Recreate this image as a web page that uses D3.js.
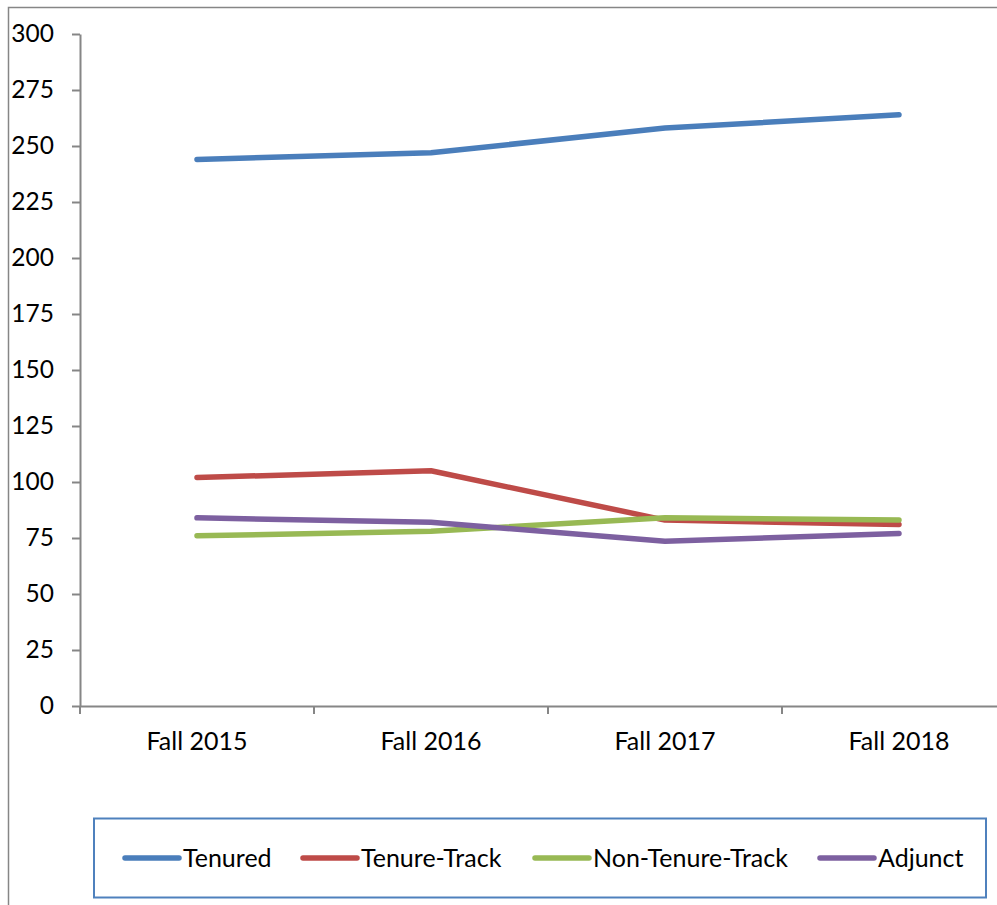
<!DOCTYPE html>
<html>
<head>
<meta charset="utf-8">
<script src="https://cdn.jsdelivr.net/npm/d3@7"></script>
<style>
  html, body { margin: 0; padding: 0; background: #fff; }
  svg text { font-family: Lato, "Liberation Sans", sans-serif; font-size: 25px; fill: #000; }
</style>
</head>
<body>
<div id="chart"></div>
<script>
// Data
var categories = ["Fall 2015", "Fall 2016", "Fall 2017", "Fall 2018"];
var seriesNames = ["Tenured", "Tenure-Track", "Non-Tenure-Track", "Adjunct"];
var tenured = [244, 247, 258, 264];
var tenureTrack = [102, 105, 83, 81];
var nonTenureTrack = [76, 78, 84, 83];
var adjunct = [84, 82, 73.5, 77];
var yTicks = [0, 25, 50, 75, 100, 125, 150, 175, 200, 225, 250, 275, 300];

var colors = ["#4a7ebb", "#be4b48", "#98b954", "#7d60a0"];
var series = [tenured, tenureTrack, nonTenureTrack, adjunct];

// Sizing
var width = 997;
var height = 905;

var svg = d3.select("#chart")
    .append("svg")
    .attr("width", width)
    .attr("height", height);

// Outer chart border (runs off the right and bottom edge)
svg.append("rect")
    .attr("x", 8.5)
    .attr("y", 7.5)
    .attr("width", 1100)
    .attr("height", 1100)
    .attr("fill", "none")
    .attr("stroke", "#868686")
    .attr("stroke-width", 1.5);

// Scales
var x = d3.scaleBand()
    .domain(categories)
    .range([80, 80 + 4 * 234]);

var y = d3.scaleLinear()
    .domain([0, 300])
    .range([706, 34]);

// Y axis
var yAxis = svg.append("g")
    .attr("transform", "translate(80,0)")
    .call(d3.axisLeft(y).tickValues(yTicks).tickSize(8).tickPadding(18).tickSizeOuter(0));

// X axis
var xAxis = svg.append("g")
    .attr("transform", "translate(0,706)")
    .call(d3.axisBottom(x).tickSize(0).tickPadding(34).tickSizeOuter(0));

// boundary ticks between categories
xAxis.selectAll(".sep")
    .data(d3.range(categories.length + 1))
    .enter()
    .append("line")
    .attr("class", "sep")
    .attr("x1", i => 80 + i * x.bandwidth())
    .attr("x2", i => 80 + i * x.bandwidth())
    .attr("y1", 0)
    .attr("y2", 8);

svg.selectAll(".domain, .tick line, .sep")
    .attr("stroke", "#868686")
    .attr("stroke-width", 2);

svg.selectAll(".tick text")
    .style("font-family", "Lato, 'Liberation Sans', sans-serif")
    .style("font-size", "25px")
    .attr("fill", "#000");

yAxis.selectAll(".tick text").style("font-size", "24.5px");
xAxis.selectAll(".tick text").attr("dy", "0.35em").attr("y", 35);

// Lines
var line = d3.line()
    .x((d, i) => x(categories[i]) + x.bandwidth() / 2)
    .y(d => y(d));

svg.selectAll(".series")
    .data(series)
    .enter()
    .append("path")
    .attr("class", "series")
    .attr("d", d => line(d))
    .attr("fill", "none")
    .attr("stroke", (d, i) => colors[i])
    .attr("stroke-width", 5.5)
    .attr("stroke-linecap", "round")
    .attr("stroke-linejoin", "round");

// Legend
svg.append("rect")
    .attr("x", 94)
    .attr("y", 818.5)
    .attr("width", 892)
    .attr("height", 79)
    .attr("fill", "none")
    .attr("stroke", "#4f81bd")
    .attr("stroke-width", 2);

var legendX = [125, 303, 535, 820];

var legend = svg.selectAll(".legend")
    .data(seriesNames)
    .enter()
    .append("g")
    .attr("class", "legend")
    .attr("transform", (d, i) => `translate(${legendX[i]},858)`);

legend.append("line")
    .attr("x1", 0)
    .attr("x2", 54)
    .attr("stroke", (d, i) => colors[i])
    .attr("stroke-width", 5.5)
    .attr("stroke-linecap", "round");

legend.append("text")
    .attr("x", 58)
    .attr("dy", "0.35em")
    .text(d => d);
</script>
</body>
</html>
